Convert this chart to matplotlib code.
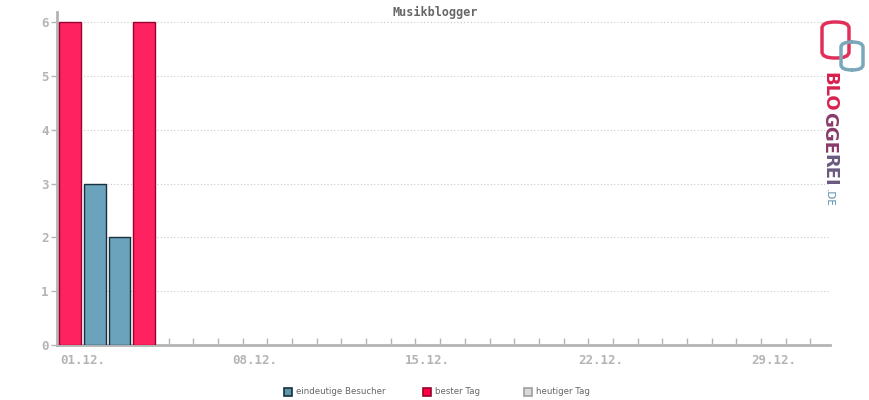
import matplotlib
matplotlib.use("Agg")
import matplotlib.pyplot as plt
from matplotlib.patches import Rectangle, FancyBboxPatch

title = "Musikblogger"
days = list(range(1, 32))
visitor_days = [2, 3]
visitor_values = [3, 2]
best_days = [1, 4]
best_values = [6, 6]
tick_days = [1, 8, 15, 22, 29]
tick_labels = ["01.12.", "08.12.", "15.12.", "22.12.", "29.12."]
y_ticks = [0, 1, 2, 3, 4, 5, 6]
legend_labels = ["eindeutige Besucher", "bester Tag", "heutiger Tag"]

W, H = 870, 400
fig = plt.figure(figsize=(W / 100, H / 100), dpi=100)
ax = fig.add_axes([57 / W, 1 - 345 / H, (830 - 57) / W, (345 - 12) / H])

gray = "#b4b4b4"
ax.bar(visitor_days, visitor_values, width=0.88, color="#6aa3bb", edgecolor="#16303d", linewidth=1.0, zorder=3)
ax.bar(best_days, best_values, width=0.92, color="#ff2260", edgecolor="#9a0030", linewidth=1.0, zorder=3)

ax.set_xlim(0.47, 31.8)
ax.set_ylim(0, 6.19)
ax.set_yticks(y_ticks)
ax.set_yticklabels([str(v) for v in y_ticks], family="DejaVu Sans Mono", fontsize=9, fontweight="bold", color=gray)
ax.set_xticks(days)
ax.set_xticklabels([])
for d, lab in zip(tick_days, tick_labels):
    ax.text(d + 0.5, -0.17, lab, ha="center", va="top", family="DejaVu Sans Mono", fontsize=9, fontweight="bold", color=gray)
ax.tick_params(axis="x", direction="in", length=5, width=1, color=gray)
ax.tick_params(axis="y", direction="out", length=4, width=1, color=gray, pad=2)

for v in y_ticks[1:]:
    ax.axhline(v, color="#c8c8c8", linestyle=(0, (1, 2)), linewidth=0.8, zorder=1)

for s in ["top", "right"]:
    ax.spines[s].set_visible(False)
for s in ["left", "bottom"]:
    ax.spines[s].set_color(gray)
    ax.spines[s].set_linewidth(2)

fig.text(435 / W, 1 - 12 / H, title, ha="center", va="center", family="DejaVu Sans Mono", fontsize=8.5, fontweight="bold", color="#666666")

# legend
leg_items = [(284, "#5f93a8", "#16303d"), (423, "#ff0040", "#9a0030"), (524, "#d8d8d8", "#a0a0a0")]
for (x, fc, ec), lab in zip(leg_items, legend_labels):
    fig.patches.append(Rectangle((x / W, 1 - 396 / H), 8 / W, 8 / H, transform=fig.transFigure,
                                 facecolor=fc, edgecolor=ec, linewidth=1.2))
    fig.text((x + 12) / W, 1 - 391.5 / H, lab, ha="left", va="center", family="DejaVu Sans", fontsize=6.2, color="#666666")

# logo
fig.patches.append(FancyBboxPatch((822 / W, 1 - 58 / H), 27 / W, 36 / H, boxstyle="round,pad=0,rounding_size=0.015",
                                  transform=fig.transFigure, facecolor="none", edgecolor="#e0305a", linewidth=2.5))
fig.patches.append(FancyBboxPatch((841 / W, 1 - 70 / H), 22 / W, 28 / H, boxstyle="round,pad=0,rounding_size=0.013",
                                  transform=fig.transFigure, facecolor="none", edgecolor="#7aa8bb", linewidth=2.5))
pieces = [("BLO", "#d8204e"), ("GGE", "#8a3a6a"), ("REI", "#6a5a80")]
fig.canvas.draw()
r = fig.canvas.get_renderer()
ytop = 72
for txt, col in pieces:
    t = fig.text(829 / W, 1 - ytop / H, txt, rotation=270, ha="center", va="top", family="DejaVu Sans",
                 fontsize=13, fontweight="bold", color=col)
    bb = t.get_window_extent(r)
    ytop += bb.height
fig.text(829 / W, 1 - (ytop + 3) / H, ".DE", rotation=270, ha="center", va="top", family="DejaVu Sans", fontsize=7.5,
         color="#5a8db0")

fig.savefig("out.png", dpi=100)
